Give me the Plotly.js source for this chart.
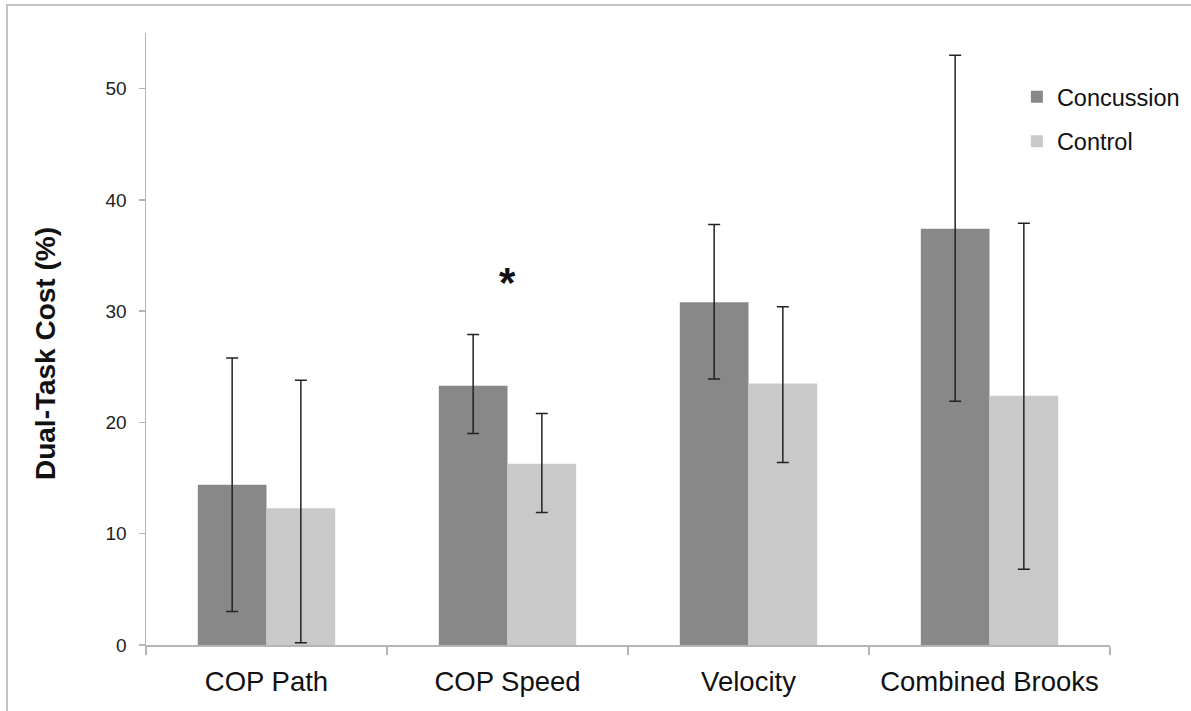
<!DOCTYPE html>
<html>
<head>
<meta charset="utf-8">
<script src="https://cdn.plot.ly/plotly-3.0.1.min.js"></script>
<style>
  html, body { margin: 0; padding: 0; background: #fff; }
  #frame { position: absolute; left: 6px; top: 4px; width: 1185px; height: 707px;
           border-left: 2px solid #c4c4c4; border-top: 2px solid #c4c4c4; box-sizing: border-box; }
  #chart { position: absolute; left: 0; top: 0; width: 1191px; height: 711px; }
</style>
</head>
<body>
<div id="chart"></div>
<div id="frame"></div>
<script>
// Data
const categories = ["COP Path", "COP Speed", "Velocity", "Combined Brooks"];
const concussionMean = [14.4, 23.3, 30.8, 37.4];
const concussionErrUp = [11.4, 4.6, 7.0, 15.6];
const concussionErrDown = [11.4, 4.3, 6.9, 15.5];
const controlMean = [12.3, 16.3, 23.5, 22.4];
const controlErrUp = [11.5, 4.5, 6.9, 15.5];
const controlErrDown = [12.1, 4.4, 7.1, 15.6];
const seriesNames = ["Concussion", "Control"];
const yTicks = [0, 10, 20, 30, 40, 50];
const yTitle = "Dual-Task Cost (%)";
const significanceLabel = "*";
const significanceCategory = "COP Speed";
const significanceY = 32.6;

const FONT = "Liberation Sans, Arial, Helvetica, sans-serif";

const errStyle = {type: "data", symmetric: false, color: "#222", thickness: 1.5, width: 6};

const traces = [
  {
    type: "bar", name: seriesNames[0], x: categories, y: concussionMean,
    marker: {color: "#888888"}, legendgroup: "a",
    error_y: Object.assign({}, errStyle, {array: concussionErrUp, arrayminus: concussionErrDown})
  },
  {
    type: "bar", name: seriesNames[1], x: categories, y: controlMean,
    marker: {color: "#c9c9c9"}, legendgroup: "b",
    error_y: Object.assign({}, errStyle, {array: controlErrUp, arrayminus: controlErrDown})
  }
];

const layout = {
  width: 1191, height: 711,
  margin: {l: 146, r: 81, t: 33, b: 66, pad: 0, autoexpand: false},
  paper_bgcolor: "#fff", plot_bgcolor: "#fff",
  barmode: "group", bargap: 0.43, bargroupgap: 0,
  font: {family: FONT, color: "#111"},
  showlegend: true,
  legend: {
    x: 0.9034, y: 0.9316, xanchor: "left", yanchor: "top",
    font: {family: FONT, size: 23.5, color: "#111"},
    bgcolor: "rgba(0,0,0,0)", tracegroupgap: 11, traceorder: "grouped",
    itemwidth: 30
  },
  xaxis: {
    type: "category", range: [-0.5, 3.5], automargin: false,
    showline: true, linecolor: "#b5b5b5", linewidth: 1.5,
    ticks: "outside", tickson: "boundaries", ticklen: 8, tickcolor: "#b5b5b5", tickwidth: 1.5,
    tickfont: {family: FONT, size: 27.5, color: "#111"},
    ticklabelstandoff: 11,
    showgrid: false, zeroline: false, fixedrange: true
  },
  yaxis: {
    range: [0, 55], tickvals: yTicks, automargin: false,
    showline: true, linecolor: "#b5b5b5", linewidth: 1.5,
    ticks: "outside", ticklen: 6, tickcolor: "#b5b5b5", tickwidth: 1.5,
    tickfont: {family: FONT, size: 19, color: "#222"},
    ticklabelstandoff: 8,
    showgrid: false, zeroline: false
  },
  annotations: [
    {
      x: significanceCategory, y: significanceY, xref: "x", yref: "y",
      text: "<b>" + significanceLabel + "</b>", showarrow: false,
      font: {family: FONT, size: 42, color: "#111"}
    },
    {
      x: -0.1048, y: 0.477, xref: "paper", yref: "paper", textangle: -90,
      xanchor: "center", yanchor: "middle",
      text: "<b>" + yTitle + "</b>", showarrow: false,
      font: {family: FONT, size: 28, color: "#111"}
    }
  ]
};

Plotly.newPlot("chart", traces, layout, {staticPlot: true, displayModeBar: false});
</script>
</body>
</html>
